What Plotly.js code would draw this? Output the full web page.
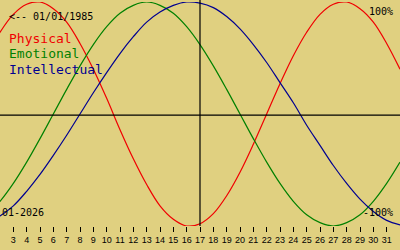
<!DOCTYPE html>
<html>
<head>
<meta charset="utf-8">
<script src="https://cdn.plot.ly/plotly-3.0.1.min.js"></script>
<style>html,body{margin:0;padding:0;background:#e0d080;}#chart{width:400px;height:250px;}</style>
</head>
<body>
<div id="chart"></div>
<script>
const days = [1,2,3,4,5,6,7,8,9,10,11,12,13,14,15,16,17,18,19,20,21,22,23,24,25,26,27,28,29,30,31,32];
const physical = [0.52,0.73,0.89,0.98,1.0,0.94,0.82,0.63,0.40,0.14,-0.14,-0.40,-0.63,-0.82,-0.94,-1.0,-0.98,-0.89,-0.73,-0.52,-0.27,0.0,0.27,0.52,0.73,0.89,0.98,1.0,0.94,0.82,0.63,0.40];
const emotional = [-0.90,-0.78,-0.62,-0.43,-0.22,0.0,0.22,0.43,0.62,0.78,0.90,0.97,1.0,0.97,0.90,0.78,0.62,0.43,0.22,0.0,-0.22,-0.43,-0.62,-0.78,-0.90,-0.97,-1.0,-0.97,-0.90,-0.78,-0.62,-0.43];
const intellectual = [-0.97,-0.91,-0.82,-0.69,-0.54,-0.37,-0.19,0.0,0.19,0.37,0.54,0.69,0.82,0.91,0.97,1.0,0.99,0.95,0.87,0.76,0.62,0.46,0.28,0.10,-0.10,-0.28,-0.46,-0.62,-0.76,-0.87,-0.95,-0.99];
const tickDays = [3,4,5,6,7,8,9,10,11,12,13,14,15,16,17,18,19,20,21,22,23,24,25,26,27,28,29,30,31];
const todayDay = 17;
const birthLabel = "<-- 01/01/1985";
const monthLabel = "01-2026";
const seriesNames = ["Physical","Emotional","Intellectual"];
const colors = ["#f00000","#008000","#000090"];

const mono = "DejaVu Sans Mono, monospace";
const traces = [physical, emotional, intellectual].map((v,i)=>({
  x: days, y: v, type: 'scatter', mode: 'lines', name: seriesNames[i],
  line: {color: colors[i], width: 1.2, shape: 'spline'}, hoverinfo: 'skip'
}));

function ann(text, x, ypx, color, size, anchor){
  return {text: text, xref: 'paper', yref: 'paper', x: x, y: (226-ypx)/224,
    xanchor: anchor||'left', yanchor: 'middle', showarrow: false,
    font: {family: mono, size: size, color: color}, borderpad: 0};
}

const layout = {
  width: 400, height: 250,
  margin: {l: 0, r: 0, t: 2, b: 24},
  paper_bgcolor: '#e0d080', plot_bgcolor: '#e0d080',
  showlegend: false,
  xaxis: {range: [2, 32], tickvals: tickDays, ticktext: tickDays.map(String),
    ticks: 'outside', ticklen: 5, tickwidth: 1, tickcolor: '#000',
    showgrid: false, zeroline: false, showline: false,
    tickfont: {family: 'Liberation Sans, Arial, sans-serif', size: 9, color: '#000'}},
  yaxis: {range: [-1, 1], showgrid: false, zeroline: false, showticklabels: false, showline: false},
  shapes: [
    {type: 'line', xref: 'x', yref: 'paper', x0: todayDay, x1: todayDay, y0: 0, y1: 1.01, line: {color: '#000', width: 1.2}},
    {type: 'line', xref: 'paper', yref: 'y', x0: 0, x1: 1, y0: -0.01, y1: -0.01, line: {color: '#000', width: 1.2}}
  ],
  annotations: [
    ann(birthLabel, 0.02, 17, '#000', 10),
    ann(seriesNames[0], 0.02, 39, colors[0], 13),
    ann(seriesNames[1], 0.02, 54, colors[1], 13),
    ann(seriesNames[2], 0.02, 69, colors[2], 13),
    ann("100%", 0.985, 12, '#000', 10, 'right'),
    ann("-100%", 0.985, 212, '#000', 10, 'right'),
    ann(monthLabel, 0.003, 212, '#000', 10)
  ]
};
Plotly.newPlot('chart', traces, layout, {staticPlot: true, displayModeBar: false});
</script>
</body>
</html>
